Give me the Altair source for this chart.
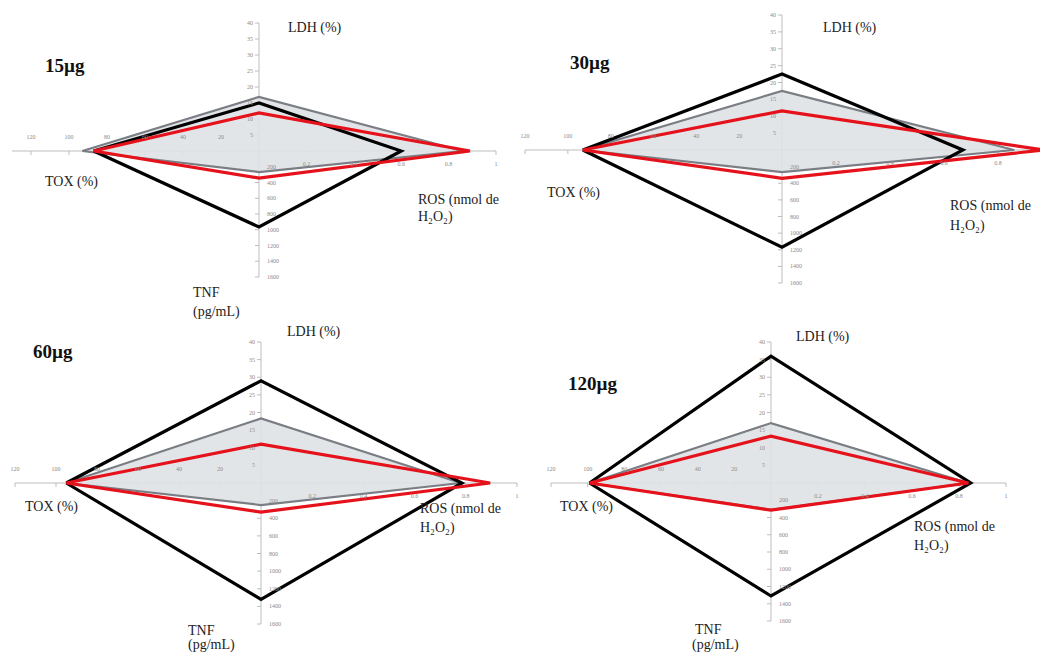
import altair as alt
import pandas as pd

# ---------------- data ----------------
panel_titles = ["15µg", "30µg", "60µg", "120µg"]
series_keys = ["black", "gray", "red"]

LDH_black = [15.0, 22.5, 29.0, 36.0]
LDH_gray = [16.9, 17.5, 18.3, 17.0]
LDH_red = [11.9, 11.6, 11.0, 13.3]

ROS_black = [0.60, 0.67, 0.785, 0.85]
ROS_gray = [0.86, 0.86, 0.78, 0.84]
ROS_red = [0.89, 0.97, 0.895, 0.84]

TNF_black = [965, 1170, 1320, 1310]
TNF_gray = [267, 265, 250, 310]
TNF_red = [343, 340, 330, 315]

TOX_black = [87, 93, 95, 99]
TOX_gray = [93, 93, 95, 99]
TOX_red = [87, 93, 95, 99]

ldh_ticks = [5, 10, 15, 20, 25, 30, 35, 40]
tnf_ticks = [200, 400, 600, 800, 1000, 1200, 1400, 1600]
ros_ticks = [0.2, 0.4, 0.6, 0.8, 1.0]
ros_tick_labels = ["0.2", "0.4", "0.6", "0.8", "1"]
tox_ticks = [20, 40, 60, 80, 100, 120]

axis_names = {"LDH": "LDH (%)", "TOX": "TOX (%)",
              "ROS1": "ROS (nmol de", "ROS2": "H₂O₂)",
              "TNF1": "TNF", "TNF2": "(pg/mL)"}

# axis maxima (data units)
LDH_MAX, TNF_MAX, ROS_MAX, TOX_MAX = 40, 1600, 1.0, 120
TOX_AXIS_END = [130, 120, 120, 120]

# ---------------- layout / style ----------------
PANEL_W = [512, 520, 512, 520]
PANEL_H = [312, 312, 333, 333]
CENTER = [(251, 143), (262, 142), (253, 163), (251, 163)]
AX_LEN = [dict(LDH=128, TNF=126, ROS=237, TOX=228),
          dict(LDH=135, TNF=133, ROS=270, TOX=257),
          dict(LDH=141, TNF=141, ROS=256, TOX=246),
          dict(LDH=141, TNF=138, ROS=235, TOX=220)]
# label offsets (px from centre, y up)
LBL = [
    dict(title=(-214, 85), LDH=(29, 123), TOX=(-214, -31), ROS1=(159, -49), ROS2=(159, -66), TNF1=(-66, -142), TNF2=(-66, -161)),
    dict(title=(-212, 87), LDH=(41, 122), TOX=(-235, -43), ROS1=(168, -56), ROS2=(168, -76)),
    dict(title=(-228, 131), LDH=(26, 151), TOX=(-236, -24), ROS1=(159, -26), ROS2=(159, -45), TNF1=(-73, -148), TNF2=(-73, -162)),
    dict(title=(-203, 99), LDH=(25, 146), TOX=(-211, -24), ROS1=(143, -44), ROS2=(143, -63), TNF1=(-76, -147), TNF2=(-79, -162)),
]
COLORS = {"black": "#000000", "gray": "#7a7e84", "red": "#e5121b"}
WIDTHS = {"black": 3.2, "gray": 2.2, "red": 3.2}
FILL = "#dfe2e6"
AXIS_COL = "#bdbdbd"
TICK_COL = "#8a8a8a"
FONT = "Liberation Serif"

vals = {
    "black": (LDH_black, ROS_black, TNF_black, TOX_black),
    "gray": (LDH_gray, ROS_gray, TNF_gray, TOX_gray),
    "red": (LDH_red, ROS_red, TNF_red, TOX_red),
}


def panel(i):
    W, H = PANEL_W[i], PANEL_H[i]
    cx, cy = CENTER[i]
    L = AX_LEN[i]
    kL = L["LDH"] / LDH_MAX
    kN = L["TNF"] / TNF_MAX
    kR = L["ROS"] / ROS_MAX
    kT = L["TOX"] / TOX_MAX
    xs = alt.Scale(domain=[-cx, W - cx], nice=False, zero=False)
    ys = alt.Scale(domain=[-(H - cy), cy], nice=False, zero=False)
    X = lambda f="x": alt.X(f"{f}:Q", scale=xs, axis=None)
    Y = lambda f="y": alt.Y(f"{f}:Q", scale=ys, axis=None)

    # axes
    axes = pd.DataFrame([
        dict(x=-TOX_AXIS_END[i] * kT, x2=ROS_MAX * kR, y=0, y2=0),
        dict(x=0, x2=0, y=LDH_MAX * kL, y2=-TNF_MAX * kN),
    ])
    axis_layer = alt.Chart(axes).mark_rule(color=AXIS_COL, strokeWidth=1, clip=True).encode(
        x=X(), x2="x2:Q", y=Y(), y2="y2:Q")

    # tick marks
    tk = []
    for v in ldh_ticks:
        tk.append(dict(x=-4, x2=0, y=v * kL, y2=v * kL))
    for v in tnf_ticks:
        tk.append(dict(x=-4, x2=0, y=-v * kN, y2=-v * kN))
    for v in ros_ticks:
        tk.append(dict(x=v * kR, x2=v * kR, y=0, y2=-4))
    for v in tox_ticks:
        tk.append(dict(x=-v * kT, x2=-v * kT, y=0, y2=-4))
    tick_layer = alt.Chart(pd.DataFrame(tk)).mark_rule(color=AXIS_COL, strokeWidth=1, clip=True).encode(
        x=X(), x2="x2:Q", y=Y(), y2="y2:Q")

    # tick labels
    tl_r = [dict(x=-6, y=v * kL, t=str(v)) for v in ldh_ticks]
    tl_l = [dict(x=8, y=-v * kN, t=str(v)) for v in tnf_ticks]
    tl_c = [dict(x=v * kR, y=-13, t=s) for v, s in zip(ros_ticks, ros_tick_labels)]
    tl_c += [dict(x=-v * kT, y=14, t=str(v)) for v in tox_ticks]
    tick_text = (
        alt.Chart(pd.DataFrame(tl_r)).mark_text(align="right", baseline="middle", fontSize=6, font=FONT, color=TICK_COL, clip=True)
        .encode(x=X(), y=Y(), text="t:N")
        + alt.Chart(pd.DataFrame(tl_l)).mark_text(align="left", baseline="middle", fontSize=6, font=FONT, color=TICK_COL, clip=True)
        .encode(x=X(), y=Y(), text="t:N")
        + alt.Chart(pd.DataFrame(tl_c)).mark_text(align="center", baseline="middle", fontSize=6, font=FONT, color=TICK_COL, clip=True)
        .encode(x=X(), y=Y(), text="t:N")
    )

    # polygons
    rows = []
    for s in series_keys:
        ldh, ros, tnf, tox = (a[i] for a in vals[s])
        pts = [(-tox * kT, 0), (0, ldh * kL), (ros * kR, 0), (0, -tnf * kN), (-tox * kT, 0)]
        for o, (px, py) in enumerate(pts):
            rows.append(dict(series=s, ord=o, x=px, y=py))
    poly = pd.DataFrame(rows)

    g_ldh, g_ros, g_tnf, g_tox = (a[i] for a in vals["gray"])
    area_df = pd.DataFrame([
        dict(x=-g_tox * kT, y=0, y2=0),
        dict(x=0, y=g_ldh * kL, y2=-g_tnf * kN),
        dict(x=g_ros * kR, y=0, y2=0),
    ])
    area_layer = alt.Chart(area_df).mark_area(color=FILL, opacity=0.9, clip=True).encode(
        x=X(), y=Y(), y2="y2:Q")

    line_layers = []
    for s in ["gray", "black", "red"]:
        line_layers.append(
            alt.Chart(poly[poly.series == s]).mark_line(
                color=COLORS[s], strokeWidth=WIDTHS[s], strokeJoin="miter", clip=True)
            .encode(x=X(), y=Y(), order="ord:Q"))

    # texts
    lb = LBL[i]
    trows = []
    for key in ["LDH", "TOX", "ROS1", "ROS2", "TNF1", "TNF2"]:
        if key in lb:
            trows.append(dict(x=lb[key][0], y=lb[key][1], t=axis_names[key]))
    name_layer = alt.Chart(pd.DataFrame(trows)).mark_text(
        align="left", baseline="middle", fontSize=14, font=FONT, color="#222222", clip=True
    ).encode(x=X(), y=Y(), text="t:N")
    title_layer = alt.Chart(pd.DataFrame([dict(x=lb["title"][0], y=lb["title"][1], t=panel_titles[i])])).mark_text(
        align="left", baseline="middle", fontSize=19, fontWeight="bold", font=FONT, color="#111111", clip=True
    ).encode(x=X(), y=Y(), text="t:N")

    return alt.layer(axis_layer, tick_layer, area_layer, *line_layers, tick_text, name_layer, title_layer).properties(
        width=W, height=H)


chart = alt.concat(panel(0), panel(1), panel(2), panel(3), columns=2, spacing=0,
                   bounds="flush", align="each").properties(
    padding=0
).configure_view(stroke=None)

chart.save("out.html", embed_options={"renderer": "svg", "actions": False})
